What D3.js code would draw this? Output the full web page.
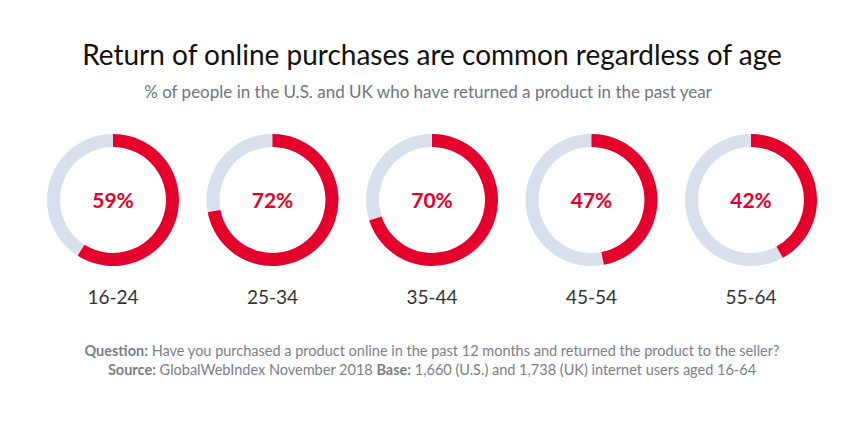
<!DOCTYPE html>
<html><head><meta charset="utf-8">
<script src="https://cdn.jsdelivr.net/npm/d3@7"></script>
<style>body{margin:0;background:#fff}</style></head>
<body><svg id="c" width="864" height="422"></svg>
<script>
const categories = ["16-24","25-34","35-44","45-54","55-64"];
const values = [59,72,70,47,42];

const svg = d3.select("#c");
const W = 864;
svg.append("rect").attr("width",864).attr("height",422).attr("fill","#fff");
svg.append("text").attr("x",432).attr("y",65).attr("text-anchor","middle")
  .attr("font-family","Lato").attr("font-size",28).attr("fill","#111")
  .text("Return of online purchases are common regardless of age");
svg.append("text").attr("x",428).attr("y",98).attr("text-anchor","middle")
  .attr("font-family","Lato").attr("font-size",17).attr("fill","#6f7480")
  .text("% of people in the U.S. and UK who have returned a product in the past year");

const x = d3.scalePoint().domain(categories).range([113,751]);
const arc = d3.arc().innerRadius(53).outerRadius(66);
const ang = d3.scaleLinear().domain([0,100]).range([0,2*Math.PI]);

categories.forEach((c,i)=>{
  const g = svg.append("g").attr("transform",`translate(${x(c)},200)`);
  g.append("path").attr("d",arc({startAngle:0,endAngle:2*Math.PI})).attr("fill","#d8e0ee");
  g.append("path").attr("d",arc({startAngle:0,endAngle:ang(values[i])})).attr("fill","#e4002b");
  g.append("text").attr("y",8).attr("text-anchor","middle").attr("font-family","Lato")
    .attr("font-weight","bold").attr("font-size",21).attr("fill","#e4002b").text(values[i]+"%");
  g.append("text").attr("y",104).attr("text-anchor","middle").attr("font-family","Lato")
    .attr("font-size",19).attr("fill","#333").text(c);
});

function foot(y,parts){
  const t = svg.append("text").attr("x",432).attr("y",y).attr("text-anchor","middle")
    .attr("font-family","Lato").attr("font-size",14.5).attr("fill","#7a808a");
  parts.forEach(p=>t.append("tspan").attr("font-weight",p[1]?"bold":"normal").text(p[0]));
}
foot(356,[["Question:",1],["  Have you purchased a product online in the past 12 months and returned the product to the seller?",0]]);
foot(375,[["Source:",1],[" GlobalWebIndex November 2018 ",0],["Base:",1],[" 1,660 (U.S.) and 1,738 (UK) internet users aged 16-64",0]]);
</script></body></html>
